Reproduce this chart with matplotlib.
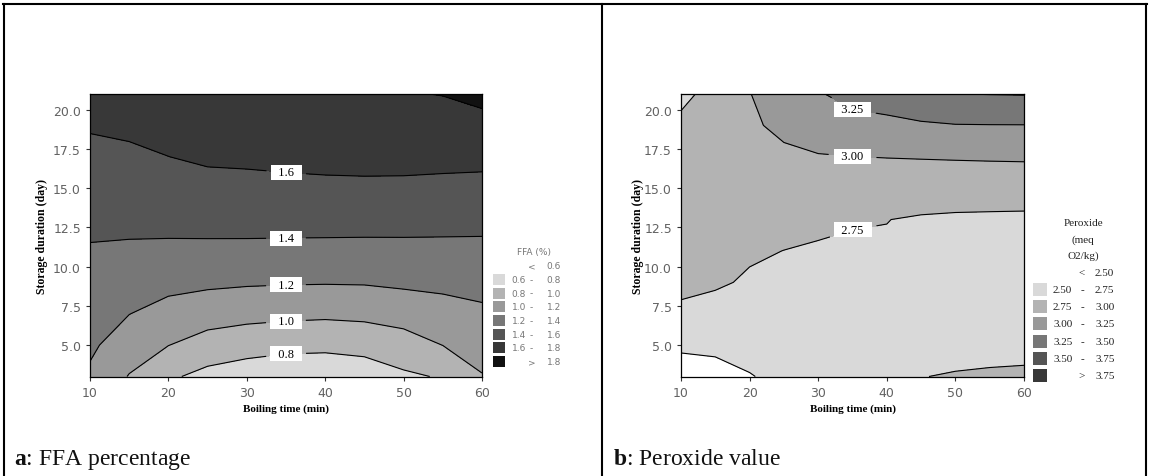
import numpy as np
import matplotlib
matplotlib.use("Agg")
import matplotlib.pyplot as plt
from matplotlib.patches import Rectangle
from matplotlib.lines import Line2D

# response grids: rows = storage duration (day), columns = boiling time (min)
boil_time = [10, 15, 20, 25, 30, 35, 40, 45, 50, 55, 60]
storage_days = [3, 5, 7, 9, 11, 13, 15, 17, 19, 21]

ffa = [
    [1.170, 0.990, 0.830, 0.742, 0.700, 0.680, 0.670, 0.690, 0.770, 0.815, 0.990],
    [1.232, 1.100, 1.003, 0.920, 0.876, 0.847, 0.842, 0.865, 0.913, 1.002, 1.080],
    [1.283, 1.203, 1.132, 1.086, 1.062, 1.047, 1.036, 1.047, 1.081, 1.126, 1.167],
    [1.334, 1.289, 1.254, 1.235, 1.221, 1.214, 1.211, 1.214, 1.233, 1.244, 1.259],
    [1.385, 1.374, 1.366, 1.362, 1.359, 1.354, 1.351, 1.349, 1.352, 1.353, 1.355],
    [1.441, 1.444, 1.451, 1.459, 1.463, 1.466, 1.467, 1.466, 1.463, 1.458, 1.452],
    [1.499, 1.506, 1.525, 1.543, 1.555, 1.563, 1.569, 1.571, 1.568, 1.559, 1.549],
    [1.557, 1.569, 1.599, 1.627, 1.629, 1.637, 1.643, 1.647, 1.649, 1.647, 1.647],
    [1.615, 1.633, 1.660, 1.680, 1.687, 1.696, 1.704, 1.711, 1.720, 1.726, 1.747],
    [1.670, 1.690, 1.710, 1.730, 1.745, 1.755, 1.765, 1.775, 1.790, 1.805, 1.846],
]

peroxide = [
    [2.440, 2.450, 2.490, 2.550, 2.600, 2.630, 2.660, 2.747, 2.760, 2.770, 2.775],
    [2.520, 2.530, 2.569, 2.600, 2.635, 2.655, 2.678, 2.720, 2.700, 2.700, 2.705],
    [2.710, 2.662, 2.646, 2.650, 2.670, 2.680, 2.696, 2.715, 2.705, 2.705, 2.705],
    [2.800, 2.780, 2.723, 2.700, 2.704, 2.706, 2.714, 2.720, 2.710, 2.705, 2.705],
    [2.830, 2.840, 2.778, 2.748, 2.730, 2.740, 2.732, 2.725, 2.715, 2.710, 2.705],
    [2.860, 2.880, 2.820, 2.823, 2.790, 2.755, 2.753, 2.729, 2.717, 2.712, 2.708],
    [2.860, 2.900, 2.860, 2.896, 2.899, 2.890, 2.878, 2.868, 2.864, 2.864, 2.863],
    [2.840, 2.900, 2.900, 2.969, 2.988, 2.998, 3.005, 3.011, 3.017, 3.022, 3.026],
    [2.785, 2.880, 2.975, 3.037, 3.106, 3.167, 3.190, 3.223, 3.241, 3.244, 3.245],
    [2.710, 2.805, 2.995, 3.100, 3.230, 3.330, 3.370, 3.430, 3.498, 3.505, 3.510],
]

ffa_bounds = [0.0, 0.6, 0.8, 1.0, 1.2, 1.4, 1.6, 1.8, 3.0]
ffa_colors = ["#ffffff", "#d9d9d9", "#b3b3b3", "#999999", "#777777", "#555555", "#383838", "#111111"]
ffa_lines = [0.8, 1.0, 1.2, 1.4, 1.6, 1.8]
ffa_label_at = [(35, 4.55), (35, 6.45), (35, 8.8), (35, 11.65), (35, 15.75)]

pv_bounds = [2.0, 2.5, 2.75, 3.0, 3.25, 3.5, 3.75, 5.0]
pv_colors = ["#ffffff", "#d9d9d9", "#b3b3b3", "#999999", "#777777", "#555555", "#383838"]
pv_lines = [2.5, 2.75, 3.0, 3.25, 3.5]
pv_label_at = [(35, 12.45), (35, 17.0), (35, 20.0)]

SERIF = "Liberation Serif"
plt.rcParams["mathtext.fontset"] = "custom"
plt.rcParams["mathtext.rm"] = SERIF
plt.rcParams["mathtext.bf"] = SERIF + ":bold"

W, H = 1150, 477
fig = plt.figure(figsize=(W / 100, H / 100), dpi=100)


def fx(px):
    return px / W


def fy(py):
    return 1 - py / H


def contour_panel(left, right, z, bounds, colors, lines, label_at, fmt, ylab_x):
    ax = fig.add_axes([fx(left), fy(377.5), (right - left) / W, (377.5 - 95) / H])
    X, Y = np.meshgrid(boil_time, storage_days)
    Z = np.array(z)
    ax.contourf(X, Y, Z, levels=bounds, colors=colors)
    cs = ax.contour(X, Y, Z, levels=lines, colors="black", linewidths=0.8)
    ax.clabel(cs, manual=label_at, inline=True, fmt=fmt, fontsize=9, inline_spacing=2)
    for t in cs.labelTexts:
        t.set_rotation(0)
        t.set_fontfamily(SERIF)
        t.set_bbox(dict(boxstyle="square,pad=0.12", fc="white", ec="none"))
    ax.set_xlim(10, 60)
    ax.set_ylim(3, 21)
    ax.set_xticks([10, 20, 30, 40, 50, 60])
    ax.set_yticks([5, 7.5, 10, 12.5, 15, 17.5, 20])
    ax.set_yticklabels([f"{v:.1f}" for v in [5, 7.5, 10, 12.5, 15, 17.5, 20]])
    ax.tick_params(labelsize=9, labelcolor="#626262", length=3, width=0.8, color="#333333")
    for s in ax.spines.values():
        s.set_linewidth(0.9)
    ax.set_xlabel("Boiling time (min)", fontfamily=SERIF, fontweight="bold", fontsize=8)
    ax.set_ylabel("Storage duration (day)", fontfamily=SERIF, fontweight="bold", fontsize=8.5)
    ax.xaxis.set_label_coords(0.5, -0.094)
    ax.yaxis.set_label_coords(ylab_x, 0.5)
    return ax


contour_panel(90, 482, ffa, ffa_bounds, ffa_colors, ffa_lines, ffa_label_at,
              lambda v: f"  {v:.1f}  ", -0.106)
contour_panel(681, 1024, peroxide, pv_bounds, pv_colors, pv_lines, pv_label_at,
              lambda v: f"  {v:.2f}  ", -0.109)


def draw_key(px, py0, dy, pw, ph, bounds, colors, fmt, x_left, x_dash, x_right, **kw):
    n = len(colors)
    for i, c in enumerate(colors):
        y = py0 + i * dy
        if i > 0:
            fig.add_artist(Rectangle((fx(px), fy(y + ph / 2)), pw / W, ph / H,
                                     transform=fig.transFigure, fc=c, ec="none"))
        if i == 0:
            parts = [(x_dash, "<", "center"), (x_right, fmt(bounds[1]), "left")]
        elif i == n - 1:
            parts = [(x_dash, ">", "center"), (x_right, fmt(bounds[-2]), "left")]
        else:
            parts = [(x_left, fmt(bounds[i]), "left"), (x_dash, "-", "center"),
                     (x_right, fmt(bounds[i + 1]), "left")]
        for x, s, ha in parts:
            fig.text(fx(x), fy(y), s, ha=ha, va="center", **kw)


# FFA key
fig.text(fx(534), fy(252.5), "FFA (%)", ha="center", va="center",
         fontsize=6.5, color="#777777", family="DejaVu Sans")
draw_key(493, 266.7, 13.7, 12, 11, ffa_bounds, ffa_colors, lambda v: f"{v:.1f}",
         511.5, 531.5, 546.5, fontsize=6.5, color="#777777", family="DejaVu Sans")

# peroxide key
for txt, y in [("Peroxide", 223), ("(meq", 240), ("O2/kg)", 256)]:
    fig.text(fx(1083), fy(y), txt, ha="center", va="center", fontsize=8,
             color="#222222", family=SERIF)
draw_key(1033, 273, 17.3, 14, 13, pv_bounds, pv_colors, lambda v: f"{v:.2f}",
         1053, 1082, 1095, fontsize=8, color="#222222", family=SERIF)

# captions
fig.text(fx(14), fy(465), r"$\mathbf{a}$: FFA percentage", fontsize=17,
         family=SERIF, color="#111111", va="baseline")
fig.text(fx(613), fy(465), r"$\mathbf{b}$: Peroxide value", fontsize=17,
         family=SERIF, color="#111111", va="baseline")

# table frame around the two panels
for xs, ys in [([fx(3), fx(1147)], [fy(5), fy(5)]),
               ([fx(4), fx(4)], [fy(5), 0]),
               ([fx(602), fx(602)], [fy(5), 0]),
               ([fx(1146), fx(1146)], [fy(5), 0])]:
    fig.add_artist(Line2D(xs, ys, color="black", lw=1.5, transform=fig.transFigure))

fig.savefig("out.png", dpi=100)
